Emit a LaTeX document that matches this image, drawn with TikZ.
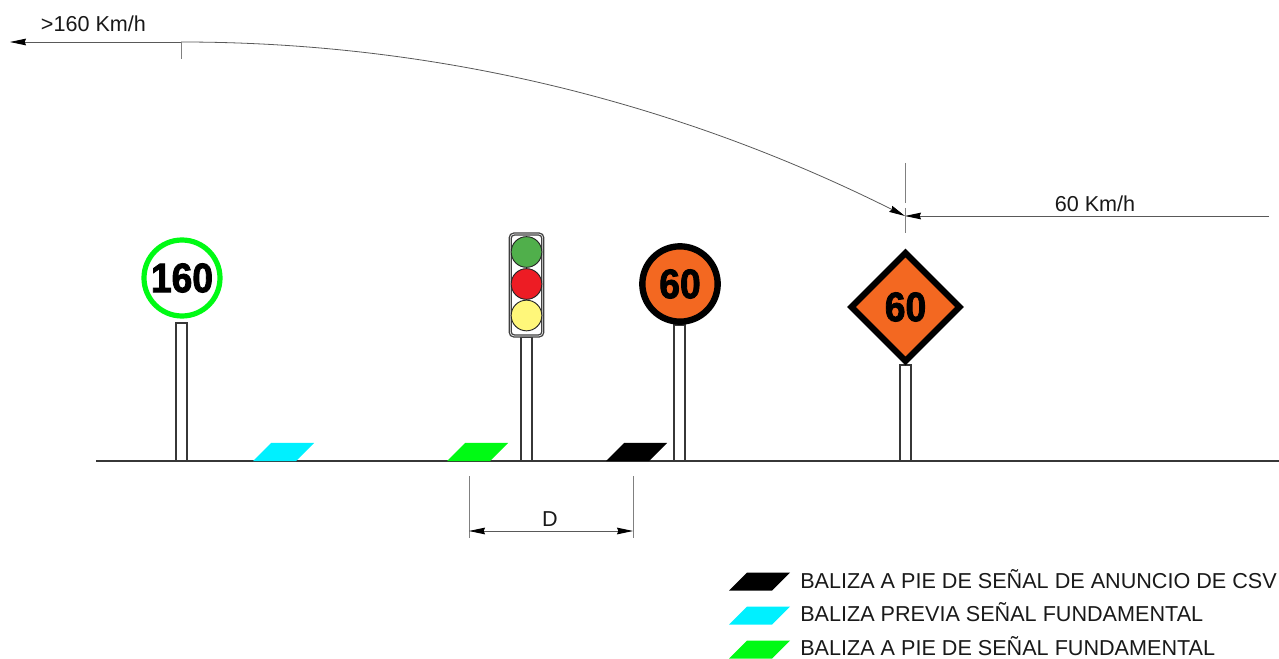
\documentclass[tikz,border=0pt]{standalone}
\usepackage{fontspec}
\setmainfont{Liberation Sans}
\newfontfamily\signfont[FakeStretch=0.9,FakeBold=2]{Liberation Sans Bold}
\usetikzlibrary{positioning,arrows.meta,calc,shapes.geometric}
\definecolor{vlorange}{RGB}{243,104,33}
\definecolor{vlgreen}{RGB}{0,250,20}
\definecolor{vlcyan}{RGB}{0,240,255}
\definecolor{lampgreen}{RGB}{80,175,75}
\definecolor{lampred}{RGB}{237,28,36}
\definecolor{lampyellow}{RGB}{255,247,122}
\definecolor{vlline}{RGB}{55,55,55}
\tikzset{
  vllbl/.style={font=\fontsize{16.2pt}{18pt}\selectfont, text=black!90, inner sep=0pt},
  vlleg/.style={font=\fontsize{16.2pt}{18pt}\selectfont, text=black!90, inner sep=0pt, anchor=west},
  vlarr/.style={-{Stealth[length=12pt,width=5pt,inset=1pt,black]}, line width=0.6pt, draw=black!65},
  vlext/.style={line width=0.6pt, draw=black!50},
  vlpost/.style={draw=vlline, fill=white, line width=1.1pt, minimum width=8pt, inner sep=0pt},
  vlsign/.style={circle, fill=white, inner sep=0pt, minimum size=57pt, line width=3.9pt},
  vlnum/.style={font=\signfont\fontsize{31pt}{31pt}\selectfont},
  vllamp/.style={circle, draw=black!85, line width=0.7pt, inner sep=0pt, minimum size=23pt},
}
% one beacon: lower left x, bottom y, colour
\newcommand{\vlbeacon}[3]{\fill[#3] (#1,#2) -- ++(43,0) -- ++(18,-18) -- ++(-43,0) -- cycle;}

\begin{document}
\begin{tikzpicture}[x=0.75pt,y=-0.75pt]
  \useasboundingbox (0,0) rectangle (1279,659);

  % posts
  \node[vlpost, minimum height=103.5pt] (post160) at (181.5,392) {};
  \node[vlpost, minimum height=93pt] (postlight) at (526.5,399) {};
  \node[vlpost, minimum height=102pt] (post60) at (679.5,393) {};
  \node[vlpost, minimum height=72pt] (postdiam) at (905.5,413) {};

  % ground
  \coordinate (roadl) at (96,461);
  \coordinate (roadr) at (1279,461);
  \draw[draw=vlline, line width=1.2pt] (roadl) -- (roadr);

  % signs
  \node[vlsign, draw=vlgreen, vlnum] (sign160) at (182,278) {160};
  \node[vlsign, draw=black, fill=vlorange, line width=4.8pt, minimum size=56.5pt, vlnum] (sign60) at (680,284) {60};
  \node[draw=black, fill=vlorange, line width=4.6pt, miter limit=10, shape=diamond, shape aspect=1,
    inner sep=0pt, minimum size=83pt, vlnum] (signdiam) at (905.5,307) {60};

  % traffic light
  \node[draw=black!75, fill=white, line width=0.9pt, rounded corners=3.5pt, inner sep=0pt,
    minimum width=26pt, minimum height=78pt] (lightbox) at (526.5,285) {};
  \node[draw=black!75, line width=0.9pt, rounded corners=2.5pt, inner sep=0pt,
    minimum width=23pt, minimum height=75pt] (lightin) at (526.5,285) {};
  \node[vllamp, fill=lampgreen] (lamp1) at (526.5,252) {};
  \node[vllamp, fill=lampred] (lamp2) at (526.5,284) {};
  \node[vllamp, fill=lampyellow] (lamp3) at (526.5,315.5) {};

  % beacons on the ground
  \vlbeacon{253}{461}{vlcyan}
  \vlbeacon{447}{461}{vlgreen}
  \vlbeacon{606}{461}{black}

  % speed curve
  \coordinate (speedl) at (10,42);
  \coordinate (speedm) at (181,42);
  \coordinate (speedr) at (905,216);
  \coordinate (tickm) at (181,59);
  \coordinate (limitr) at (1269,216);
  \draw[vlarr] (speedm) -- (speedl);
  \draw[vlarr] (speedm) .. controls (432,42) and (673,100) .. (speedr);
  \draw[vlarr] (limitr) -- (speedr);
  \draw[vlext] (speedm) -- (tickm);
  \draw[vlext] (905,163) -- (905,203);
  \draw[vlext] (905,208) -- (905,233);
  \node[vllbl] (speedhi) at (93.5,24) {>160 Km/h};
  \node[vllbl] (speedlo) at (1095,204) {60 Km/h};

  % distance D
  \coordinate (dimla) at (469,476);
  \coordinate (dimlb) at (469,538);
  \coordinate (dimra) at (633,476);
  \coordinate (dimrb) at (633,538);
  \coordinate (diml) at (469,531);
  \coordinate (dimr) at (633,531);
  \coordinate (dimm) at (551,531);
  \draw[vlext] (dimla) -- (dimlb);
  \draw[vlext] (dimra) -- (dimrb);
  \draw[vlarr] (dimm) -- (diml);
  \draw[vlarr] (dimm) -- (dimr);
  \node[vllbl] (dimtxt) at (550,519) {D};

  % legend
  \vlbeacon{729}{590.5}{black}
  \vlbeacon{729}{624.5}{vlcyan}
  \vlbeacon{729}{658.5}{vlgreen}
  \node[vlleg] (leg1) at (800,579.5) {BALIZA A PIE DE SEÑAL DE ANUNCIO DE CSV};
  \node[vlleg] (leg2) at (800,612.5) {BALIZA PREVIA SEÑAL FUNDAMENTAL};
  \node[vlleg] (leg3) at (800,646.5) {BALIZA A PIE DE SEÑAL FUNDAMENTAL};
\end{tikzpicture}
\end{document}
